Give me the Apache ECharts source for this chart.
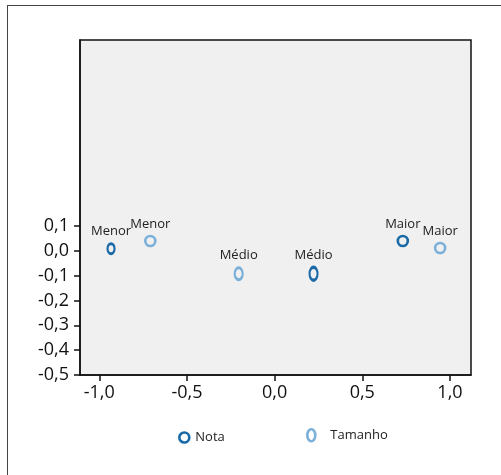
<!DOCTYPE html>
<html>
<head>
<meta charset="utf-8">
<script src="https://cdn.jsdelivr.net/npm/echarts@6/dist/echarts.min.js"></script>
<style>
html,body{margin:0;padding:0;background:#fff;overflow:hidden;width:501px;height:475px;}
#frame{position:absolute;left:7px;top:5px;width:520px;height:500px;border:1px solid #444;box-sizing:border-box;}
#c{position:absolute;left:0;top:0;width:501px;height:475px;}
</style>
</head>
<body>
<div id="frame"></div>
<div id="c"></div>
<script>
// ---- data ----
var categories = ['Menor', 'Médio', 'Maior'];
var notaX = [-0.933, 0.222, 0.731];
var notaY = [0.009, -0.092, 0.040];
var tamanhoX = [-0.709, -0.205, 0.944];
var tamanhoY = [0.040, -0.092, 0.012];
var xTicks = [-1.0, -0.5, 0.0, 0.5, 1.0];
var yTicks = [-0.5, -0.4, -0.3, -0.2, -0.1, 0.0, 0.1];

// ---- axis ranges ----
var X_MIN = -1.11, X_MAX = 1.12;
var Y_MIN = -0.5, Y_MAX = 0.85;

// ---- styles (separate from data) ----
var ellipse = 'path://M50,0 A50,50 0 1,1 50,100 A50,50 0 1,1 50,0 Z';
var tallEllipse = 'path://M40,0 A40,60 0 1,1 40,120 A40,60 0 1,1 40,0 Z';
var notaSizes = { 'Menor': [7, 10], 'Médio': [8, 13], 'Maior': [10, 10] };
var tamSizes = { 'Menor': [10, 10], 'Médio': [8, 12], 'Maior': [10, 10] };
var FONT = '"Open Sans", sans-serif';
var notaColor = '#1a6aa8';
var tamColor = '#7bb0d9';
var TICK_LEN = 6;

function fmt(v) { return v.toFixed(1).replace('.', ','); }

function build(xs, ys, sizes) {
  return categories.map(function (c, i) {
    return { name: c, value: [xs[i], ys[i]], symbolSize: sizes[c] };
  });
}

var chart = echarts.init(document.getElementById('c'));
chart.setOption({
  animation: false,
  grid: {
    left: 80, top: 40, right: 30, bottom: 100,
    show: true, backgroundColor: '#f0f0f0', borderColor: '#111', borderWidth: 1.5
  },
  xAxis: {
    type: 'value', min: X_MIN, max: X_MAX, position: 'bottom',
    splitLine: { show: false },
    axisLine: { show: true, onZero: false, lineStyle: { color: '#111', width: 1.5 } },
    axisTick: { show: true, length: TICK_LEN, customValues: xTicks, lineStyle: { color: '#111', width: 1.5 } },
    axisLabel: { customValues: xTicks, formatter: fmt, color: '#111', fontSize: 18, fontFamily: FONT, margin: 9 }
  },
  yAxis: {
    type: 'value', min: Y_MIN, max: Y_MAX, position: 'left',
    splitLine: { show: false },
    axisLine: { show: true, onZero: false, lineStyle: { color: '#111', width: 1.5 } },
    axisTick: { show: true, length: TICK_LEN, customValues: yTicks, lineStyle: { color: '#111', width: 1.5 } },
    axisLabel: { customValues: yTicks, formatter: fmt, color: '#111', fontSize: 18, fontFamily: FONT, margin: 11 }
  },
  legend: [{
    data: [{ name: 'Nota', icon: ellipse, itemStyle: { color: 'transparent', borderColor: notaColor, borderWidth: 2.6 } }],
    left: 173, top: 426, itemWidth: 10, itemHeight: 10, itemGap: 0,
    textStyle: { fontSize: 13, fontFamily: FONT, color: '#222', padding: [0, 0, 0, 1] }
  }, {
    data: [{ name: 'Tamanho', icon: tallEllipse, itemStyle: { color: 'transparent', borderColor: tamColor, borderWidth: 2.6 } }],
    left: 301, top: 423, itemWidth: 8, itemHeight: 12, itemGap: 0,
    textStyle: { fontSize: 13, fontFamily: FONT, color: '#222', padding: [0, 0, 0, 10] }
  }],
  series: [{
    name: 'Nota', type: 'scatter',
    symbol: ellipse,
    data: build(notaX, notaY, notaSizes),
    itemStyle: { color: '#f0f0f0', borderColor: notaColor, borderWidth: 2.6, opacity: 1 },
    label: { show: true, position: 'top', distance: 4, formatter: '{b}', fontSize: 13, fontFamily: FONT, color: '#222' }
  }, {
    name: 'Tamanho', type: 'scatter',
    symbol: ellipse,
    data: build(tamanhoX, tamanhoY, tamSizes),
    itemStyle: { color: '#f0f0f0', borderColor: tamColor, borderWidth: 2.6, opacity: 1 },
    label: { show: true, position: 'top', distance: 4, formatter: '{b}', fontSize: 13, fontFamily: FONT, color: '#222' }
  }]
});
</script>
</body>
</html>
